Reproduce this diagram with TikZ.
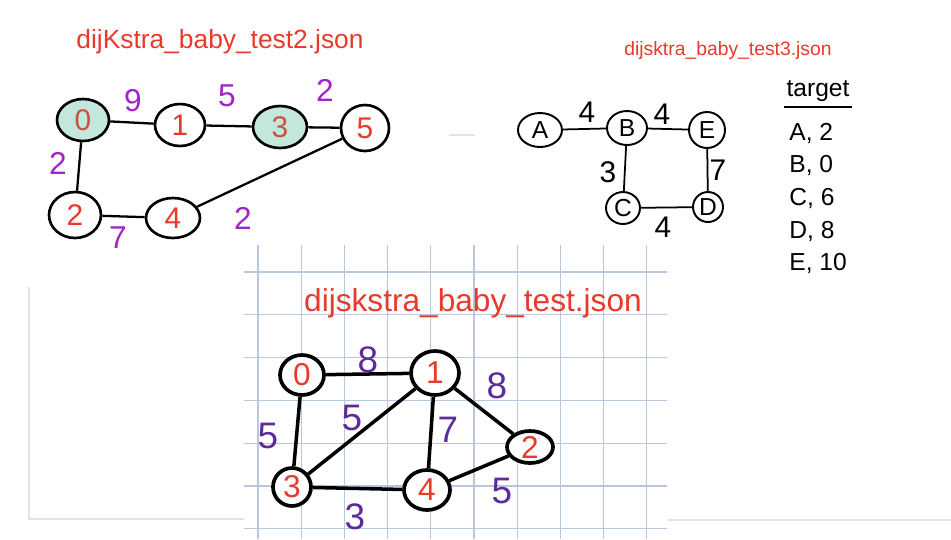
\documentclass[tikz,border=0pt]{standalone}
\usepackage{fontspec}
\setmainfont{Liberation Sans}
\usetikzlibrary{shapes,positioning}
\definecolor{rojo}{HTML}{E8392B}
\definecolor{rojoosc}{HTML}{C9533D}
\definecolor{morado}{HTML}{A224C8}
\definecolor{moradoosc}{HTML}{5B2C9A}
\definecolor{verde}{HTML}{C3E7DD}
\definecolor{rejilla}{HTML}{B8C7DE}
\definecolor{gris}{HTML}{E4E4DE}
\tikzset{
    nodo/.style={ellipse,draw,line width=1.5pt,fill=white,inner sep=0pt,text=rojo,font=\fontsize{17}{17}\selectfont},
    nodoverde/.style={nodo,fill=verde,text=rojoosc},
    nodochico/.style={ellipse,draw,line width=1.1pt,fill=white,inner sep=0pt,font=\fontsize{14}{14}\selectfont},
    nodogrande/.style={ellipse,draw,line width=2.1pt,fill=white,inner sep=0pt,text=rojo,font=\fontsize{18}{18}\selectfont},
    arista/.style={draw,line width=1.3pt},
    aristachica/.style={draw,line width=1pt},
    aristagrande/.style={draw,line width=2pt},
    peso/.style={text=morado,font=\fontsize{18}{18}\selectfont},
    pesonegro/.style={font=\fontsize{17}{17}\selectfont},
    pesogrande/.style={text=moradoosc,font=\fontsize{21}{21}\selectfont},
    titulo/.style={text=rojo,font=\fontsize{15}{15}\selectfont},
    lista/.style={right,font=\fontsize{14}{14}\selectfont,inner sep=0pt,minimum height=0.64cm},
}
\begin{document}
\begin{tikzpicture}[x=0.02cm,y=-0.02cm]
\useasboundingbox (0,0) rectangle (951,539);

% hoja cuadriculada
\foreach \i in {0,...,9}
    \draw[rejilla,line width=0.7pt] ({258+43.2*\i},245) -- ({258+43.2*\i},539);
\foreach \j in {0,...,6}
    \draw[rejilla,line width=0.7pt] (244,{272+42.8*\j}) -- (667,{272+42.8*\j});
\draw[gris,line width=0.8pt] (29,287) -- (29,519) -- (244,519);
\draw[gris,line width=0.8pt] (668,520) -- (951,520);
\draw[gris,line width=0.8pt] (449,135) -- (475,135);

% dijKstra_baby_test2.json
\node[titulo] (t2) at (220,42) {dijKstra\_baby\_test2.json};
\node[nodoverde,minimum width=1.04cm,minimum height=0.84cm] (a0) at (83,120) {0};
\node[nodo,minimum width=1.0cm,minimum height=0.84cm]       (a1) at (180,125) {1};
\node[nodoverde,minimum width=1.08cm,minimum height=0.84cm] (a3) at (280,127) {3};
\node[nodo,minimum width=0.96cm,minimum height=0.92cm]      (a5) at (365,128) {5};
\node[nodo,minimum width=1.04cm,minimum height=0.92cm]      (a2) at (75,215) {2};
\node[nodo,minimum width=1.08cm,minimum height=0.8cm]       (a4) at (173,218) {4};
\draw[arista] (a0) -- (a1);
\draw[arista] (a1) -- (a3);
\draw[arista] (a3) -- (a5);
\draw[arista] (a0) -- (a2);
\draw[arista] (a2) -- (a4);
\draw[arista] (a4) -- (a5);
\node[peso] (p01) at (133,101) {9};
\node[peso] (p13) at (227,96) {5};
\node[peso] (p35) at (325,90) {2};
\node[peso] (p02) at (58,163) {2};
\node[peso] (p24) at (118,238) {7};
\node[peso] (p45) at (243,218) {2};

% dijsktra_baby_test3.json
\node[titulo,font=\fontsize{11}{11}\selectfont] (t3) at (728,50) {dijsktra\_baby\_test3.json};
\node[nodochico,minimum width=0.88cm,minimum height=0.68cm] (bA) at (540,130) {A};
\node[nodochico,minimum width=0.8cm,minimum height=0.68cm]  (bB) at (627,128) {B};
\node[nodochico,minimum width=0.72cm,minimum height=0.72cm] (bE) at (707,130) {E};
\node[nodochico,minimum width=0.68cm,minimum height=0.64cm] (bC) at (623,208) {C};
\node[nodochico,minimum width=0.6cm,minimum height=0.6cm]   (bD) at (708,207) {D};
\draw[aristachica] (bA) -- (bB);
\draw[aristachica] (bB) -- (bE);
\draw[aristachica] (bB) -- (bC);
\draw[aristachica] (bE) -- (bD);
\draw[aristachica] (bC) -- (bD);
\node[pesonegro] (qAB) at (587,112) {4};
\node[pesonegro] (qBE) at (662,114) {4};
\node[pesonegro] (qBC) at (608,172) {3};
\node[pesonegro] (qED) at (718,170) {7};
\node[pesonegro] (qCD) at (663,227) {4};

\node[font=\fontsize{14}{14}\selectfont,inner sep=1pt] (objetivo) at (818,91) {target};
\draw[line width=0.9pt] ([yshift=-2pt]objetivo.south west) -- ([yshift=-2pt]objetivo.south east);
\node[lista] (lA) at (789,133) {A, 2};
\node[lista,below=0pt of lA.south west,anchor=north west] (lB) {B, 0};
\node[lista,below=0pt of lB.south west,anchor=north west] (lC) {C, 6};
\node[lista,below=0pt of lC.south west,anchor=north west] (lD) {D, 8};
\node[lista,below=0pt of lD.south west,anchor=north west] (lE) {E, 10};

% dijskstra_baby_test.json
\node[titulo,font=\fontsize{18}{18}\selectfont] (t1) at (473,303) {dijskstra\_baby\_test.json};
\node[nodogrande,minimum width=0.88cm,minimum height=0.8cm] (c0) at (302,375) {0};
\node[nodogrande,minimum width=0.96cm,minimum height=0.88cm] (c1) at (435,373) {1};
\node[nodogrande,minimum width=0.92cm,minimum height=0.64cm] (c2) at (530,447) {2};
\node[nodogrande,minimum width=0.76cm,minimum height=0.76cm] (c3) at (292,487) {3};
\node[nodogrande,minimum width=0.92cm,minimum height=0.8cm]  (c4) at (427,490) {4};
\draw[aristagrande] (c0) -- (c1);
\draw[aristagrande] (c1) -- (c2);
\draw[aristagrande] (c0) -- (c3);
\draw[aristagrande] (c1) -- (c3);
\draw[aristagrande] (c1) -- (c4);
\draw[aristagrande] (c2) -- (c4);
\draw[aristagrande] (c3) -- (c4);
\node[pesogrande] (r01) at (368,360) {8};
\node[pesogrande] (r12) at (497,386) {8};
\node[pesogrande] (r03) at (268,436) {5};
\node[pesogrande] (r13) at (352,418) {5};
\node[pesogrande] (r14) at (448,430) {7};
\node[pesogrande] (r24) at (502,491) {5};
\node[pesogrande] (r34) at (355,517) {3};
\end{tikzpicture}
\end{document}
